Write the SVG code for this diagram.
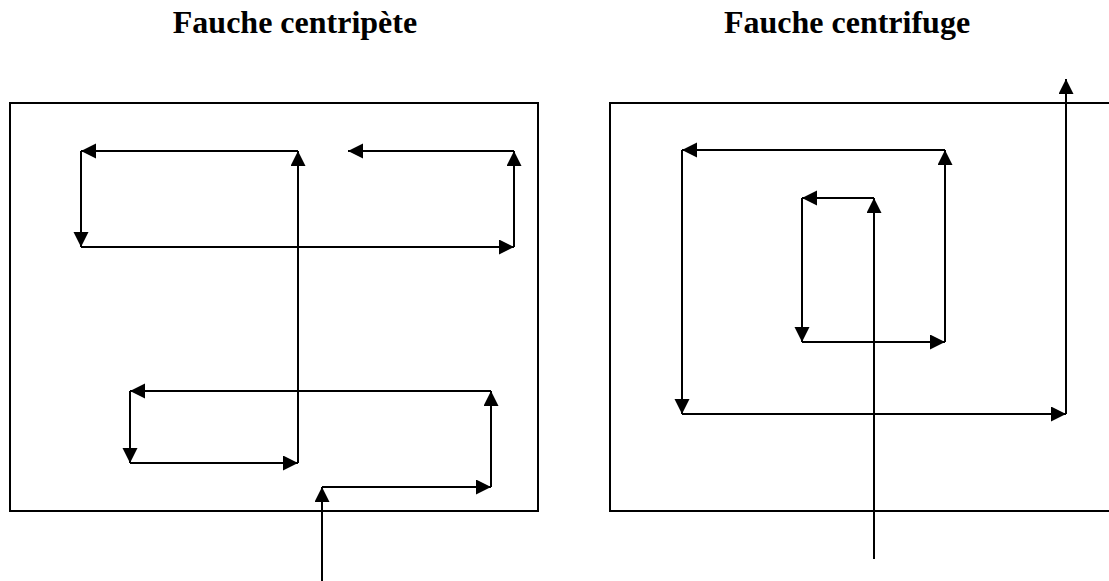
<svg xmlns="http://www.w3.org/2000/svg" width="1109" height="581" viewBox="0 0 1109 581">
  <style>
    .title { font-family: "Liberation Serif", "Times New Roman", serif; font-weight: bold; font-size: 32px; fill: #000; text-anchor: middle; }
    .field { fill: none; stroke: #000; stroke-width: 2; }
    .path line { stroke: #000; stroke-width: 2; marker-end: url(#arrow); }
  </style>
  <defs>
    <marker id="arrow" markerUnits="userSpaceOnUse" markerWidth="16" markerHeight="16" refX="15" refY="7.5" orient="auto">
      <path d="M0,0 L15,7.5 L0,15 Z" fill="#000"/>
    </marker>
  </defs>
  <rect width="1109" height="581" fill="#fff"/>

  <g id="title-centripete"><text class="title" x="295" y="33">Fauche centripète</text></g>
  <g id="title-centrifuge"><text class="title" x="847" y="33">Fauche centrifuge</text></g>

  <g id="field-left"><rect class="field" x="10" y="103" width="528" height="408"/></g>
  <g id="field-right"><rect class="field" x="610" y="103" width="520" height="408"/></g>

  <g id="connectors" class="path">
    <!-- centripete -->
    <line x1="322" y1="581" x2="322" y2="487"/>
    <line x1="322" y1="487" x2="491" y2="487"/>
    <line x1="491" y1="487" x2="491" y2="391"/>
    <line x1="491" y1="391" x2="130" y2="391"/>
    <line x1="130" y1="391" x2="130" y2="463"/>
    <line x1="130" y1="463" x2="298" y2="463"/>
    <line x1="298" y1="463" x2="298" y2="151"/>
    <line x1="298" y1="151" x2="81" y2="151"/>
    <line x1="81" y1="151" x2="81" y2="247"/>
    <line x1="81" y1="247" x2="514" y2="247"/>
    <line x1="514" y1="247" x2="514" y2="151"/>
    <line x1="514" y1="151" x2="348" y2="151"/>
    <!-- centrifuge -->
    <line x1="874" y1="559" x2="874" y2="198"/>
    <line x1="874" y1="198" x2="802" y2="198"/>
    <line x1="802" y1="198" x2="802" y2="342"/>
    <line x1="802" y1="342" x2="945" y2="342"/>
    <line x1="945" y1="342" x2="945" y2="150"/>
    <line x1="945" y1="150" x2="682" y2="150"/>
    <line x1="682" y1="150" x2="682" y2="414"/>
    <line x1="682" y1="414" x2="1066" y2="414"/>
    <line x1="1066" y1="414" x2="1066" y2="79"/>
  </g>
</svg>
